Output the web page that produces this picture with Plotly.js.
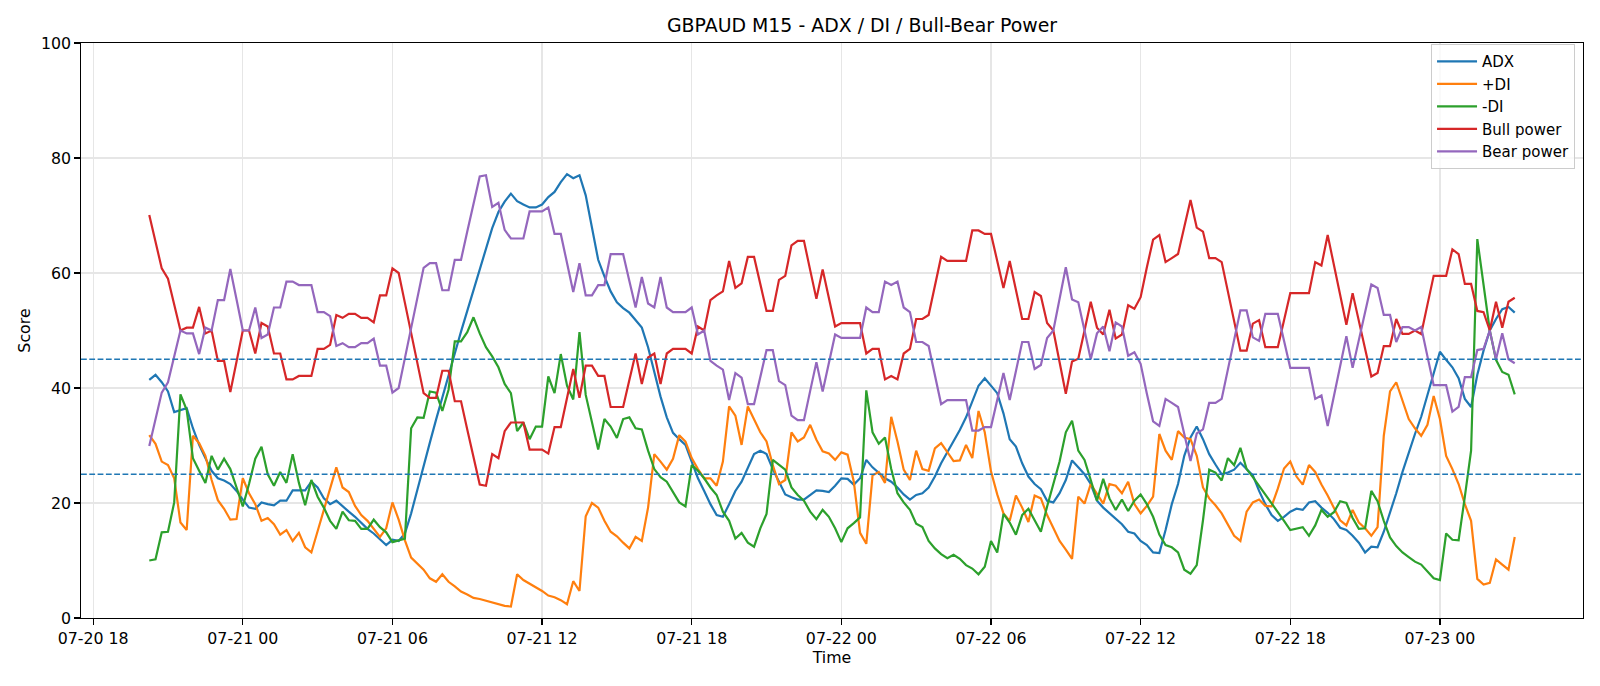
<!DOCTYPE html>
<html>
<head>
<meta charset="utf-8">
<script src="https://cdn.plot.ly/plotly-3.0.1.min.js"></script>
<style>
  html, body { margin: 0; padding: 0; background: #ffffff; }
  #chart { width: 1600px; height: 686px; }
</style>
</head>
<body>
<div id="chart"></div>
<script>
// ---- data (M15 bars) ----
const startTime = '2025-07-20T20:15:00Z';
const stepMinutes = 15;

const adx = [
  41.4,42.3,41.0,39.4,35.8,36.2,36.5,33.0,30.1,27.8,
  25.6,24.3,23.9,23.3,22.1,20.6,19.2,19.0,20.1,19.8,
  19.6,20.4,20.4,22.2,22.2,22.2,23.7,22.7,20.8,19.8,
  20.4,19.4,18.5,17.6,16.6,15.5,14.7,13.7,12.7,13.6,
  13.4,14.7,18.2,22.3,26.6,30.5,34.5,38.5,42.4,46.0,
  49.8,53.4,57.0,61.0,64.5,67.8,70.6,72.4,73.8,72.5,
  71.9,71.4,71.4,71.9,73.2,74.1,75.8,77.2,76.5,77.0,
  73.5,67.7,62.3,59.4,56.8,54.9,53.9,53.1,51.8,50.5,
  47.1,42.6,38.5,34.9,32.2,31.1,30.1,27.2,24.3,22.1,
  19.8,17.9,17.6,19.8,22.1,23.7,26.2,28.5,29.1,28.5,
  25.9,23.7,21.5,21.0,20.6,20.6,21.4,22.2,22.1,21.9,
  23.0,24.3,24.2,23.2,24.3,27.5,26.2,25.3,24.3,23.7,
  22.7,21.5,20.6,21.4,21.7,22.7,24.6,26.9,28.8,30.7,
  32.7,34.9,37.6,40.4,41.7,40.4,39.1,35.6,31.1,29.8,
  26.9,24.6,23.3,22.4,20.4,20.1,21.7,24.0,27.4,26.2,
  25.0,23.3,20.4,19.2,18.2,17.2,16.3,15.0,14.7,13.4,
  12.7,11.4,11.3,15.3,19.8,23.3,28.2,31.4,33.3,31.1,
  28.5,26.7,25.0,25.3,25.8,27.0,25.9,24.8,22.1,19.8,
  17.9,16.9,17.6,18.5,19.0,18.8,20.1,20.3,19.2,18.3,
  17.2,15.7,15.3,14.3,13.1,11.4,12.4,12.3,15.0,18.2,
  21.7,25.4,28.8,32.0,35.0,38.8,42.4,46.3,44.9,43.6,
  41.7,38.1,36.7,42.3,46.5,50.0,52.0,53.7,54.1,53.1
];

const plusDI = [
  31.8,30.3,27.2,26.6,24.3,16.6,15.3,31.7,30.4,28.2,
  24.0,20.5,19.0,17.1,17.2,24.3,21.7,19.8,16.9,17.4,
  16.3,14.5,15.3,13.4,14.8,12.3,11.4,15.0,18.8,22.5,
  26.2,22.7,21.9,19.5,17.9,16.9,15.6,14.1,15.6,20.1,
  17.1,13.5,10.5,9.5,8.4,6.9,6.3,7.6,6.3,5.5,
  4.6,4.1,3.5,3.3,3.0,2.6,2.3,2.1,2.0,7.6,
  6.6,6.0,5.3,4.7,3.9,3.6,3.1,2.4,6.4,4.7,
  17.7,20.0,19.2,16.9,15.0,14.2,13.1,12.1,14.1,13.4,
  19.2,28.5,27.2,25.8,27.7,31.8,30.7,27.8,25.9,24.3,
  24.3,23.0,27.2,36.8,35.2,30.1,36.8,34.6,32.3,30.7,
  26.6,23.3,24.0,32.3,30.7,31.4,33.6,31.0,29.0,28.6,
  27.5,28.8,28.4,23.7,14.8,12.9,24.8,25.4,23.5,35.0,
  30.7,25.8,24.0,29.1,25.9,25.6,29.5,30.4,28.8,27.3,
  27.4,30.1,27.8,36.0,32.3,25.5,21.5,18.2,16.9,21.3,
  19.2,16.7,21.3,20.8,17.9,15.6,13.4,11.9,10.3,21.1,
  19.9,23.3,21.7,19.9,23.3,23.0,21.7,23.7,19.8,18.2,
  19.5,21.1,32.0,29.1,27.5,32.5,31.4,31.1,28.2,22.7,
  20.8,19.6,18.2,16.3,14.3,13.4,18.5,20.1,20.6,19.5,
  19.4,22.5,26.0,27.2,24.6,23.2,26.6,25.4,23.2,21.3,
  19.2,17.0,16.1,18.8,16.6,15.6,14.3,15.8,31.7,39.4,
  41.0,37.8,34.6,33.0,31.7,33.6,38.6,34.6,28.2,25.9,
  23.3,19.8,16.9,6.8,5.8,6.1,10.2,9.3,8.4,14.1
];

const minusDI = [
  10.0,10.2,14.9,15.0,20.1,38.9,36.2,27.8,25.6,23.5,
  28.2,25.8,27.7,25.9,22.7,19.4,23.3,27.7,29.8,25.0,
  23.0,25.4,23.5,28.5,23.5,19.6,24.0,21.1,19.2,16.9,
  15.5,18.5,17.0,16.9,15.5,15.5,17.1,15.8,14.9,13.2,
  13.5,13.8,33.0,34.9,34.8,39.4,39.2,36.0,39.7,48.1,
  48.1,49.7,52.3,49.5,47.1,45.5,43.6,40.7,39.1,32.5,
  34.0,31.1,33.3,33.3,42.0,39.1,45.9,40.4,38.0,49.7,
  38.8,34.0,29.3,34.6,33.3,31.3,34.6,34.9,33.0,32.8,
  29.1,25.9,24.5,23.7,21.9,20.1,19.4,26.6,25.6,24.3,
  22.7,21.4,18.5,16.9,13.8,14.8,13.1,12.4,15.6,18.1,
  27.5,26.6,25.8,22.7,21.4,20.4,18.5,17.2,18.8,17.6,
  15.6,13.2,15.6,16.5,17.5,39.6,32.3,30.3,31.4,25.9,
  21.7,20.1,18.8,16.4,15.8,13.4,12.1,11.1,10.4,11.0,
  10.3,9.2,8.6,7.6,8.9,13.4,11.4,18.1,16.6,14.5,
  17.9,19.0,16.9,15.0,19.4,23.3,27.2,32.3,34.3,29.1,
  27.5,24.0,20.4,24.2,20.8,18.8,20.6,18.6,20.4,21.5,
  19.8,17.6,14.5,12.7,12.3,11.4,8.4,7.7,9.2,17.0,
  25.8,25.3,23.9,27.8,26.6,29.6,25.9,24.5,23.0,21.5,
  20.1,18.5,16.9,15.3,15.6,15.8,14.3,16.1,18.8,17.6,
  18.4,20.3,20.0,17.4,15.5,15.6,22.1,20.3,16.9,14.0,
  12.5,11.4,10.6,9.8,9.3,8.1,6.9,6.6,14.7,13.6,
  13.5,21.1,29.1,65.9,57.6,50.0,44.9,42.8,42.3,38.9
];

const bullPower = [
  70.1,65.5,60.8,59.0,54.5,50.0,50.5,50.5,54.1,49.5,
  50.0,44.7,44.7,39.3,44.6,50.0,50.0,46.0,51.3,50.7,
  46.0,46.0,41.5,41.5,42.1,42.1,42.1,46.8,46.8,47.5,
  52.7,52.2,52.9,52.9,52.2,52.2,51.4,56.1,56.1,60.8,
  60.0,54.8,49.6,44.3,39.1,38.3,38.3,43.0,43.0,37.7,
  37.7,32.8,27.9,23.2,23.0,28.5,27.8,32.5,34.0,34.0,
  34.0,29.3,29.3,29.3,28.6,33.2,33.2,38.2,43.3,38.3,
  43.9,43.9,42.1,42.1,36.7,36.7,36.7,41.4,46.0,40.7,
  45.3,46.0,40.7,46.0,46.8,46.8,46.8,46.0,50.7,50.0,
  55.3,56.1,56.8,62.1,57.4,58.2,62.8,62.8,58.1,53.4,
  53.4,58.8,59.5,64.8,65.6,65.6,60.5,55.5,60.6,55.5,
  50.7,51.3,51.3,51.3,51.3,46.0,46.8,46.8,41.5,42.1,
  41.5,46.0,46.8,52.0,52.0,52.7,57.8,62.8,62.1,62.1,
  62.1,62.1,67.4,67.4,66.8,66.8,62.1,57.4,62.1,57.0,
  52.0,52.0,56.7,56.0,51.3,50.0,44.5,39.0,44.6,45.1,
  50.0,55.0,50.5,49.3,53.6,48.6,49.3,54.4,53.8,55.8,
  61.0,65.8,66.6,61.9,62.6,63.3,68.0,72.7,67.9,67.2,
  62.6,62.6,61.9,56.8,51.6,46.5,46.5,51.2,51.8,47.1,
  47.1,47.1,51.8,56.5,56.5,56.5,56.5,61.9,61.3,66.6,
  61.5,56.1,51.0,56.5,51.7,46.8,42.0,42.6,47.3,47.3,
  52.0,49.4,49.4,50.0,49.4,54.5,59.5,59.5,59.5,64.1,
  63.3,58.1,58.1,53.4,53.2,50.0,55.0,50.5,55.0,55.7
];

const bearPower = [
  29.9,34.5,39.2,41.0,45.5,50.0,49.5,49.5,45.9,50.5,
  50.0,55.3,55.3,60.7,55.4,50.0,50.0,54.0,48.7,49.3,
  54.0,54.0,58.5,58.5,57.9,57.9,57.9,53.2,53.2,52.5,
  47.3,47.8,47.1,47.1,47.8,47.8,48.6,43.9,43.9,39.2,
  40.0,45.2,50.4,55.7,60.9,61.7,61.7,57.0,57.0,62.3,
  62.3,67.2,72.1,76.8,77.0,71.5,72.2,67.5,66.0,66.0,
  66.0,70.7,70.7,70.7,71.4,66.8,66.8,61.8,56.7,61.7,
  56.1,56.1,57.9,57.9,63.3,63.3,63.3,58.6,54.0,59.3,
  54.7,54.0,59.3,54.0,53.2,53.2,53.2,54.0,49.3,50.0,
  44.7,43.9,43.2,37.9,42.6,41.8,37.2,37.2,41.9,46.6,
  46.6,41.2,40.5,35.2,34.4,34.4,39.5,44.5,39.4,44.5,
  49.3,48.7,48.7,48.7,48.7,54.0,53.2,53.2,58.5,57.9,
  58.5,54.0,53.2,48.0,48.0,47.3,42.2,37.2,37.9,37.9,
  37.9,37.9,32.6,32.6,33.2,33.2,37.9,42.6,37.9,43.0,
  48.0,48.0,43.3,44.0,48.7,50.0,55.5,61.0,55.4,54.9,
  50.0,45.0,49.5,50.7,46.4,51.4,50.7,45.6,46.2,44.2,
  39.0,34.2,33.4,38.1,37.4,36.7,32.0,27.3,32.1,32.8,
  37.4,37.4,38.1,43.2,48.4,53.5,53.5,48.8,48.2,52.9,
  52.9,52.9,48.2,43.5,43.5,43.5,43.5,38.1,38.7,33.4,
  38.5,43.9,49.0,43.5,48.3,53.2,58.0,57.4,52.7,52.7,
  48.0,50.6,50.6,50.0,50.6,45.5,40.5,40.5,40.5,35.9,
  36.7,41.9,41.9,46.6,46.8,50.0,45.0,49.5,45.0,44.3
];

const seriesNames = ['ADX', '+DI', '-DI', 'Bull power', 'Bear power'];
const seriesColors = ['#1f77b4', '#ff7f0e', '#2ca02c', '#d62728', '#9467bd'];
const levels = [25, 45];
const xTickLabels = ['07-20 18', '07-21 00', '07-21 06', '07-21 12', '07-21 18',
                     '07-22 00', '07-22 06', '07-22 12', '07-22 18', '07-23 00'];
const xTickTimes = ['2025-07-20 18:00', '2025-07-21 00:00', '2025-07-21 06:00', '2025-07-21 12:00',
                    '2025-07-21 18:00', '2025-07-22 00:00', '2025-07-22 06:00', '2025-07-22 12:00',
                    '2025-07-22 18:00', '2025-07-23 00:00'];

// ---- build time axis from bar index ----
function fmt(d) {
  const p = n => String(n).padStart(2, '0');
  return d.getUTCFullYear() + '-' + p(d.getUTCMonth() + 1) + '-' + p(d.getUTCDate()) + ' ' +
         p(d.getUTCHours()) + ':' + p(d.getUTCMinutes()) + ':' + p(d.getUTCSeconds());
}
const t0 = new Date(startTime).getTime();
const times = adx.map((_, i) => fmt(new Date(t0 + i * stepMinutes * 60000)));

// matplotlib-like 5% x margins
const tFirst = t0, tLast = t0 + (adx.length - 1) * stepMinutes * 60000;
const span = tLast - tFirst;
const xRange = [fmt(new Date(tFirst - 0.05 * span)), fmt(new Date(tLast + 0.05 * span))];

const values = [adx, plusDI, minusDI, bullPower, bearPower];
const traces = values.map((v, k) => ({
  type: 'scatter', mode: 'lines', x: times, y: v, name: seriesNames[k],
  line: { color: seriesColors[k], width: 2.2 }, hoverinfo: 'skip'
}));

const FONT = 'DejaVu Sans, Liberation Sans, sans-serif';
const shapes = levels.map(l => ({
  type: 'line', xref: 'paper', x0: 0, x1: 1, yref: 'y', y0: l, y1: l,
  line: { color: '#1f77b4', width: 1.5, dash: '5.8px,2.5px' }, layer: 'above'
}));

const layout = {
  width: 1600, height: 686,
  margin: { l: 81, r: 17, t: 43, b: 68 },
  paper_bgcolor: '#ffffff', plot_bgcolor: '#ffffff',
  font: { family: FONT, size: 15.8, color: '#000000' },
  title: { text: 'GBPAUD M15 - ADX / DI / Bull-Bear Power', font: { family: FONT, size: 18.9, color: '#000' },
           x: 0.52, xanchor: 'center', y: 0.963, yanchor: 'middle', xref: 'paper' },
  showlegend: true,
  legend: { x: 0.9947, xanchor: 'right', y: 0.998, yanchor: 'top',
            bgcolor: 'rgba(255,255,255,0.8)', bordercolor: '#cccccc', borderwidth: 1,
            font: { family: FONT, size: 15, color: '#000' }, tracegroupgap: 0, itemwidth: 40 },
  xaxis: {
    type: 'date', range: xRange,
    tickmode: 'array', tickvals: xTickTimes, ticktext: xTickLabels,
    ticks: 'outside', ticklen: 5.5, tickwidth: 1.26, tickcolor: '#000',
    showline: true, linecolor: '#000', linewidth: 1.26, mirror: true,
    showgrid: true, gridcolor: '#e6e6e6', gridwidth: 1.2, zeroline: false,
    tickfont: { family: FONT, size: 15.8, color: '#000' },
    title: { text: 'Time', font: { family: FONT, size: 15.8, color: '#000' }, standoff: 4 }
  },
  yaxis: {
    range: [0, 100], tickmode: 'linear', tick0: 0, dtick: 20,
    ticks: 'outside', ticklen: 5.5, tickwidth: 1.26, tickcolor: '#000',
    showline: true, linecolor: '#000', linewidth: 1.26, mirror: true,
    showgrid: true, gridcolor: '#e6e6e6', gridwidth: 1.2, zeroline: false,
    tickfont: { family: FONT, size: 15.8, color: '#000' },
    title: { text: 'Score', font: { family: FONT, size: 15.8, color: '#000' }, standoff: 6 }
  },
  shapes: shapes
};

Plotly.newPlot('chart', traces, layout, { displayModeBar: false, staticPlot: true });
</script>
</body>
</html>
